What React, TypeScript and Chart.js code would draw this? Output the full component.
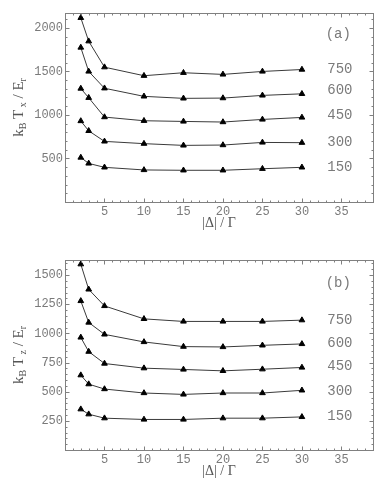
import React, { useEffect, useRef } from "react";
import { Chart, registerables } from "chart.js";

Chart.register(...registerables);

// ---- data ----
const xValues = [2, 3, 5, 10, 15, 20, 25, 30];
const seriesNames = ["750", "600", "450", "300", "150"];

// panel (a): kB Tx / Er
const txS750 = [2115, 1846, 1548, 1450, 1484, 1465, 1499, 1521];
const txS600 = [1774, 1499, 1306, 1213, 1190, 1193, 1224, 1242];
const txS450 = [1303, 1197, 975, 933, 925, 918, 948, 971];
const txS300 = [930, 817, 696, 670, 650, 654, 684, 681];
const txS150 = [511, 443, 398, 368, 364, 364, 382, 398];
const txLabelY = [1525, 1287, 990, 688, 399];
const txTicks = [500, 1000, 1500, 2000];

// panel (b): kB Tz / Er
const tzS750 = [1594, 1378, 1236, 1125, 1103, 1103, 1103, 1114];
const tzS600 = [1279, 1094, 992, 927, 887, 884, 898, 910];
const tzS450 = [966, 844, 742, 702, 691, 679, 693, 708];
const tzS300 = [642, 565, 523, 489, 477, 489, 489, 512];
const tzS150 = [350, 307, 273, 262, 262, 273, 273, 284];
const tzLabelY = [1117, 912, 716, 504, 292];
const tzTicks = [250, 500, 750, 1000, 1250, 1500];

const xTicks = [5, 10, 15, 20, 25, 30, 35];

type PanelCfg = {
  series: number[][];
  labelY: number[];
  yTicks: number[];
  yMax: number;
  yMinor: number;
  yMajor: number;
  tag: string;
  tagY: number;
  sub: string;
  padTop: number;
  xHeight: number;
};

const panelA: PanelCfg = {
  series: [txS750, txS600, txS450, txS300, txS150],
  labelY: txLabelY,
  yTicks: txTicks,
  yMax: 2170,
  yMinor: 100,
  yMajor: 500,
  tag: "(a)",
  tagY: 1929,
  sub: "x",
  padTop: 13,
  xHeight: 47,
};

const panelB: PanelCfg = {
  series: [tzS750, tzS600, tzS450, tzS300, tzS150],
  labelY: tzLabelY,
  yTicks: tzTicks,
  yMax: 1630,
  yMinor: 50,
  yMajor: 250,
  tag: "(b)",
  tagY: 1432,
  sub: "z",
  padTop: 11,
  xHeight: 49,
};

const MONO = "'Liberation Mono', monospace";
const SERIF = "'Liberation Serif', 'DejaVu Serif', serif";
const TEXT_COLOR = "#7a7a7a";

function makeDecor(cfg: PanelCfg) {
  return {
    id: "decor",
    afterDraw(chart: any) {
      const ctx: CanvasRenderingContext2D = chart.ctx;
      const a = chart.chartArea;
      const xs = chart.scales.x;
      const ys = chart.scales.y;
      ctx.save();
      // box
      ctx.strokeStyle = "#808080";
      ctx.lineWidth = 1;
      const L = Math.round(a.left) + 0.5;
      const R = Math.round(a.right) + 0.5;
      const T = Math.round(a.top) + 0.5;
      const B = Math.round(a.bottom) + 0.5;
      ctx.strokeRect(L, T, R - L, B - T);
      // ticks
      ctx.beginPath();
      for (let v = 1; v < xs.max; v += 1) {
        const px = Math.round(xs.getPixelForValue(v)) + 0.5;
        const len = v % 5 === 0 ? 4 : 2;
        ctx.moveTo(px, B);
        ctx.lineTo(px, B - len);
        ctx.moveTo(px, T);
        ctx.lineTo(px, T + len);
      }
      for (let v = cfg.yMinor; v < ys.max; v += cfg.yMinor) {
        const py = Math.round(ys.getPixelForValue(v)) + 0.5;
        const len = v % cfg.yMajor === 0 ? 4 : 2;
        ctx.moveTo(L, py);
        ctx.lineTo(L + len, py);
        ctx.moveTo(R, py);
        ctx.lineTo(R - len, py);
      }
      ctx.stroke();

      // series labels on right
      ctx.fillStyle = TEXT_COLOR;
      ctx.font = `14px ${MONO}`;
      ctx.textAlign = "center";
      ctx.textBaseline = "middle";
      const lx = xs.getPixelForValue(34.8);
      seriesNames.forEach((n, i) => {
        ctx.fillText(n, lx, ys.getPixelForValue(cfg.labelY[i]));
      });
      ctx.fillText(cfg.tag, xs.getPixelForValue(34.6), ys.getPixelForValue(cfg.tagY));

      // x title
      ctx.fillStyle = "#555";
      ctx.font = `14px ${SERIF}`;
      ctx.textAlign = "center";
      ctx.textBaseline = "middle";
      ctx.fillText("|\u0394| / \u0393", (a.left + a.right) / 2, a.bottom + 21);

      // y title (rotated, with subscripts)
      const segs: [string, boolean][] = [
        ["k", false],
        ["B", true],
        [" T", false],
        [" " + cfg.sub, true],
        [" / E", false],
        ["r", true],
      ];
      const big = `15px ${SERIF}`;
      const small = `10px ${SERIF}`;
      let total = 0;
      segs.forEach(([t, s]) => {
        ctx.font = s ? small : big;
        total += ctx.measureText(t).width;
      });
      ctx.translate(18, (a.top + a.bottom) / 2);
      ctx.rotate(-Math.PI / 2);
      ctx.textAlign = "left";
      ctx.textBaseline = "alphabetic";
      let cx = -total / 2;
      segs.forEach(([t, s]) => {
        ctx.font = s ? small : big;
        ctx.fillText(t, cx, s ? 8 : 5);
        cx += ctx.measureText(t).width;
      });
      ctx.restore();
    },
  };
}

function Panel({ cfg, top, height }: { cfg: PanelCfg; top: number; height: number }) {
  const ref = useRef<HTMLCanvasElement | null>(null);
  useEffect(() => {
    if (!ref.current) return;
    const chart = new Chart(ref.current, {
      type: "line",
      data: {
        datasets: cfg.series.map((s, i) => ({
          label: seriesNames[i],
          data: xValues.map((x, j) => ({ x, y: s[j] })),
          borderColor: "#3a3a3a",
          borderWidth: 1,
          backgroundColor: "#000",
          pointBackgroundColor: "#000",
          pointBorderColor: "#000",
          pointBorderWidth: 1,
          pointStyle: "triangle",
          pointRadius: 3.3,
          tension: 0,
          fill: false,
        })),
      },
      options: {
        animation: false,
        responsive: false,
        maintainAspectRatio: false,
        layout: { padding: { top: cfg.padTop, right: 10, left: 0, bottom: 0 } },
        plugins: { legend: { display: false }, tooltip: { enabled: false } },
        scales: {
          x: {
            type: "linear",
            min: 0,
            max: 39,
            grid: { display: false, drawTicks: false },
            border: { display: false },
            afterBuildTicks: (s: any) => {
              s.ticks = xTicks.map((v) => ({ value: v }));
            },
            afterFit: (s: any) => {
              s.height = cfg.xHeight;
            },
            ticks: {
              padding: 3,
              maxRotation: 0,
              autoSkip: false,
              color: TEXT_COLOR,
              font: { family: MONO, size: 12 },
              callback: (v: any) => String(v),
            },
          },
          y: {
            type: "linear",
            min: 0,
            max: cfg.yMax,
            grid: { display: false, drawTicks: false },
            border: { display: false },
            afterBuildTicks: (s: any) => {
              s.ticks = cfg.yTicks.map((v) => ({ value: v }));
            },
            afterFit: (s: any) => {
              s.width = 65;
            },
            ticks: {
              padding: 2,
              autoSkip: false,
              color: TEXT_COLOR,
              font: { family: MONO, size: 12 },
              callback: (v: any) => String(v),
            },
          },
        },
      } as any,
      plugins: [makeDecor(cfg)],
    });
    return () => chart.destroy();
  }, [cfg]);
  return (
    <canvas
      ref={ref}
      width={383}
      height={height}
      style={{ position: "absolute", left: 0, top, width: 383, height }}
    />
  );
}

export default function App() {
  return (
    <div
      style={{
        position: "fixed",
        left: 0,
        top: 0,
        width: 383,
        height: 499,
        background: "#fff",
        overflow: "hidden",
      }}
    >
      <Panel cfg={panelA} top={0} height={249} />
      <Panel cfg={panelB} top={249} height={250} />
    </div>
  );
}
